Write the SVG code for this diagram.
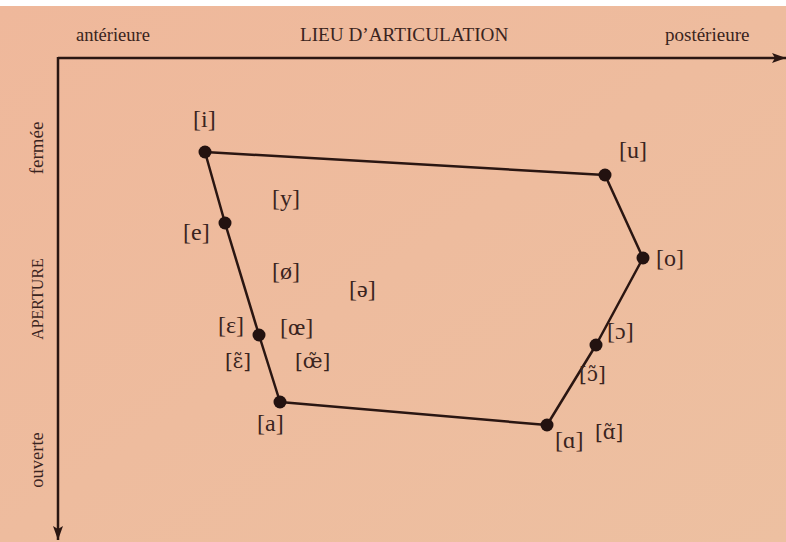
<svg xmlns="http://www.w3.org/2000/svg" width="786" height="542" viewBox="0 0 786 542">
<style>
text{font-family:"Liberation Serif","Times New Roman",serif;fill:#3a2420}
.ax{font-size:18.5px}
.ph{font-size:24px}
.nas{font-family:"DejaVu Serif",serif;font-size:20px}
.edge{stroke:#2a1612;stroke-width:2.5;fill:none;stroke-linejoin:round}
.dot{fill:#231210}
</style>
<defs>
<marker id="arr" viewBox="0 0 14 10" refX="14" refY="5" markerWidth="14" markerHeight="10" markerUnits="userSpaceOnUse" orient="auto">
<path d="M0,0 L14,5 L0,10 L3,5 Z" fill="#2a1612"/>
</marker>
<linearGradient id="bg" x1="0" y1="0" x2="1" y2="1">
<stop offset="0" stop-color="#efb89b"/>
<stop offset="1" stop-color="#edc0a1"/>
</linearGradient>
</defs>
<rect width="786" height="542" fill="#ffffff"/>
<rect x="0" y="6" width="786" height="536" fill="url(#bg)"/>
<g id="axes">
<line x1="58" y1="58" x2="786" y2="58" stroke="#2a1612" stroke-width="2.5" marker-end="url(#arr)"/>
<line x1="58" y1="57" x2="58" y2="540" stroke="#2a1612" stroke-width="2.5" marker-end="url(#arr)"/>
<text class="ax" x="76" y="41">antérieure</text>
<text class="ax" x="300" y="41" style="font-size:19.2px">LIEU D’ARTICULATION</text>
<text class="ax" x="665" y="41" style="font-size:19px">postérieure</text>
<text class="ax" text-anchor="middle" transform="translate(43,148) rotate(-90)" style="font-size:19px">fermée</text>
<text class="ax" text-anchor="middle" transform="translate(43,299) rotate(-90)" style="font-size:16px">APERTURE</text>
<text class="ax" text-anchor="middle" transform="translate(43,460) rotate(-90)">ouverte</text>
</g>
<g id="connectors">
<polygon class="edge" points="205,152 605,175 643,258 596,345 547,425 280,402 259,335 225,223"/>
</g>
<g id="i"><circle class="dot" cx="205" cy="152" r="6.5"/><text class="ph" x="193" y="127">[i]</text></g>
<g id="u"><circle class="dot" cx="605" cy="175" r="6.5"/><text class="ph" x="619" y="158">[u]</text></g>
<g id="o"><circle class="dot" cx="643" cy="258" r="6.5"/><text class="ph" x="656" y="266">[o]</text></g>
<g id="open-o"><circle class="dot" cx="596" cy="345" r="6.5"/><text class="ph" x="607" y="339">[ɔ]</text></g>
<g id="open-o-nasal"><text class="ph nas" x="579" y="381">[ɔ̃]</text></g>
<g id="alpha"><circle class="dot" cx="547" cy="425" r="6.5"/><text class="ph" x="555" y="448">[ɑ]</text></g>
<g id="alpha-nasal"><text class="ph nas" x="595" y="439">[ɑ̃]</text></g>
<g id="a"><circle class="dot" cx="280" cy="402" r="6.5"/><text class="ph" x="257" y="431">[a]</text></g>
<g id="epsilon"><circle class="dot" cx="259" cy="335" r="6.5"/><text class="ph" x="218" y="333">[ɛ]</text></g>
<g id="epsilon-nasal"><text class="ph nas" x="225" y="368">[ɛ̃]</text></g>
<g id="e"><circle class="dot" cx="225" cy="223" r="6.5"/><text class="ph" x="183" y="240">[e]</text></g>
<g id="y"><text class="ph" x="272" y="206">[y]</text></g>
<g id="oslash"><text class="ph" x="272" y="279">[ø]</text></g>
<g id="schwa"><text class="ph" x="349" y="297">[ə]</text></g>
<g id="oe"><text class="ph" x="280" y="335">[œ]</text></g>
<g id="oe-nasal"><text class="ph nas" x="295" y="368">[œ̃]</text></g>
</svg>
